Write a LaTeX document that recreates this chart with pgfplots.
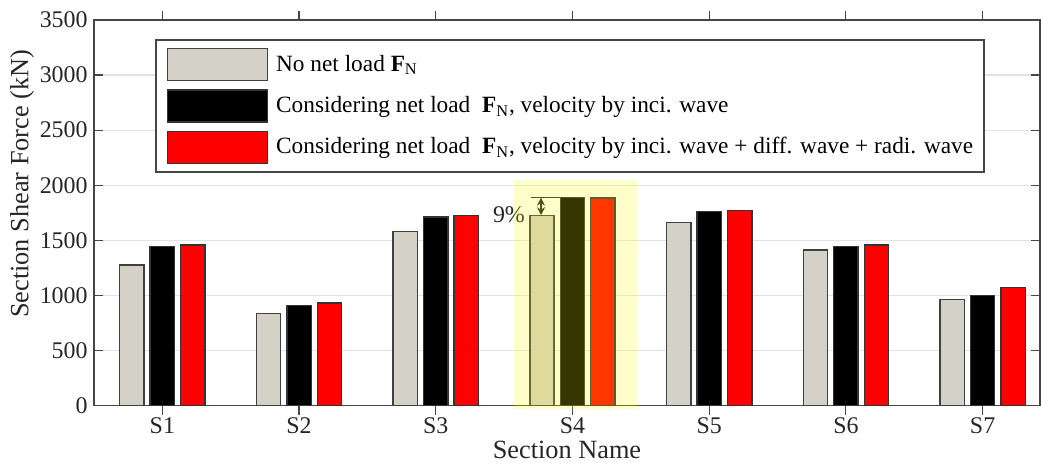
\documentclass[border=0pt]{standalone}
\usepackage{fontspec}
\setmainfont{Liberation Serif}
\usepackage{pgfplots}
\usepackage{pgfplotstable}
\pgfplotsset{compat=1.18}
\usetikzlibrary{arrows.meta}

\definecolor{barGray}{RGB}{212,209,199}
\definecolor{barRed}{RGB}{255,0,0}
\definecolor{axGray}{RGB}{70,70,70}
\definecolor{gridGray}{RGB}{226,226,226}
\definecolor{hlYellow}{RGB}{255,255,0}

% bars above the grid, ticks and axis lines above the bars
\pgfplotsset{
  layers/bars under axis/.define layer set={
    axis background,axis grid,main,axis ticks,axis lines,
    axis tick labels,axis descriptions,axis foreground}{},
  swatch/.style={legend image code/.code={
      \draw[##1] (0bp,-8bp) rectangle (50bp,8bp);}},
}

% section shear force (kN)
\pgfplotstableread{
x noload inci full
1 1275 1441 1456
2 838  907  930
3 1578 1711 1723
4 1725 1890 1884
5 1659 1759 1771
6 1411 1443 1459
7 965  998  1074
}\shear

\newcommand{\FN}{\textbf{F}\textsubscript{N}}

\begin{document}
\begin{tikzpicture}[font=\fontsize{12}{14}\selectfont]
\begin{axis}[
  set layers=bars under axis,
  scale only axis,
  width=473bp, height=192.75bp,
  at={(0,0)}, anchor=south west,
  clip=false,
  xmin=0.5, xmax=7.42,
  ymin=0, ymax=3500,
  ytick distance=500,
  xtick={1,2,3,4,5,6,7},
  xticklabels={S1,S2,S3,S4,S5,S6,S7},
  ybar,
  bar width=0.178,
  axis line style={axGray, line width=0.75pt},
  tick style={axGray, line width=0.6pt},
  major tick length=4.5bp,
  ymajorgrids,
  grid style={gridGray, line width=0.6pt},
  tick label style={black!85, font=\fontsize{12}{14}\selectfont},
  /pgf/number format/assume math mode=true,
  /pgf/number format/1000 sep={},
  xticklabel style={inner sep=0pt, anchor=north, yshift=-1.4bp},
  yticklabel style={inner sep=0pt, anchor=east, xshift=-3bp},
  xlabel={Section Name},
  ylabel={Section Shear Force (kN)},
  label style={font=\fontsize{13.2}{15}\selectfont, black!85},
  xlabel style={at={(axis description cs:0.5,0)}, anchor=north, inner sep=0pt, yshift=-17.6bp},
  ylabel style={at={(axis description cs:-0.0761,0.575)}, anchor=center},
  legend cell align=left,
  legend style={
    at={(rel axis cs:0.0645,0.9507)}, anchor=north west,
    draw=axGray, line width=0.75pt, fill=white,
    inner xsep=5.5bp, inner ysep=4bp,
    row sep=4bp, column sep=4bp,
    nodes={inner sep=0pt, anchor=west},
    font=\fontsize{11.7}{14}\selectfont,
  },
]
\addplot[swatch, bar shift=-0.223, fill=barGray, draw=black!75, line width=0.7pt]
  table[x=x, y=noload] {\shear};
\addlegendentry{No net load \FN}
\addplot[swatch, bar shift=0, fill=black, draw=black!80, line width=0.7pt]
  table[x=x, y=inci] {\shear};
\addlegendentry{Considering net load \ \FN, velocity by inci. wave}
\addplot[swatch, bar shift=0.223, fill=barRed, draw=black!80, line width=0.7pt]
  table[x=x, y=full] {\shear};
\addlegendentry{Considering net load \ \FN, velocity by inci. wave + diff. wave + radi. wave}

% 9% increase marker on S4
\draw[black!85, line width=0.6pt] (axis cs:3.70,1890) -- (axis cs:4.0,1890);
\draw[black!85, line width=0.6pt, {Stealth[length=4bp,width=4bp]}-{Stealth[length=4bp,width=4bp]}]
  (axis cs:3.77,1728) -- (axis cs:3.77,1887);
\node[anchor=base east, inner sep=0pt, black!85] at (axis cs:3.655,1662) {9\%};

% highlight of section S4
\fill[hlYellow, fill opacity=0.21]
  (axis cs:3.575,-30) rectangle (axis cs:4.475,2045);
\end{axis}
\pgfresetboundingbox
\path (-47bp,-28.75bp) rectangle (473.5bp,202.75bp);
\end{tikzpicture}
\end{document}
